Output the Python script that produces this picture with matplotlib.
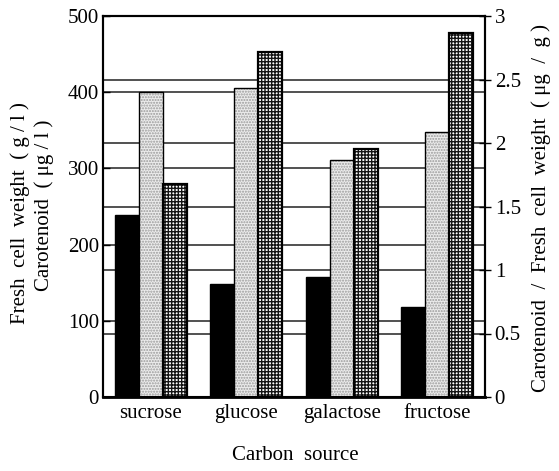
import matplotlib
matplotlib.use("Agg")
import matplotlib.pyplot as plt
import numpy as np

categories = ["sucrose", "glucose", "galactose", "fructose"]
fresh_cell_weight = [239, 148, 158, 118]      # g/l (left axis)
carotenoid = [400, 405, 311, 348]             # ug/l (left axis)
ratio = [1.68, 2.72, 1.95, 2.87]              # ug/g (right axis)
left_ticks = [0, 100, 200, 300, 400, 500]
right_ticks = [0, 0.5, 1, 1.5, 2, 2.5, 3]
right_tick_labels = ["0", "0.5", "1", "1.5", "2", "2.5", "3"]

plt.rcParams['font.family'] = ['Liberation Serif', 'DejaVu Serif']
plt.rcParams['hatch.linewidth'] = 1.0

fig = plt.figure(figsize=(5.59, 4.71), dpi=100)
ax = fig.add_axes([103/559, 1-397/471, 382/559, 381/471])
ax2 = ax.twinx()

x = np.arange(len(categories))
w = 0.25
LMAX, RMAX = 500, 3

ax.set_xlim(-0.5, 3.5)
ax.set_ylim(0, LMAX)
ax2.set_ylim(0, RMAX)

# gridlines (left ticks and right ticks)
for v in left_ticks[1:-1]:
    ax.axhline(v, color='#222222', lw=1.1, zorder=1)
for v in right_ticks[1:-1]:
    ax.axhline(v * LMAX / RMAX, color='#222222', lw=1.1, zorder=1)

ax.bar(x - w, fresh_cell_weight, w, color='black', edgecolor='black', lw=1.0, zorder=3)
ax.bar(x, carotenoid, w, color='#ececec', edgecolor='#9a9a9a', hatch='......', lw=0, zorder=3)
ax.bar(x, carotenoid, w, fill=False, edgecolor='black', lw=1.0, zorder=4)
ax2.bar(x + w, ratio, w, color='white', edgecolor='#151515', hatch='+++++', lw=0, zorder=3)
ax2.bar(x + w, ratio, w, fill=False, edgecolor='black', lw=1.6, zorder=4)

ax.set_yticks(left_ticks)
ax.set_yticklabels([str(t) for t in left_ticks])
ax2.set_yticks(right_ticks)
ax2.set_yticklabels(right_tick_labels)
ax.set_xticks(x)
ax.set_xticklabels(categories, fontsize=15)

ax.tick_params(axis='y', direction='in', length=5, width=1, labelsize=15, pad=3)
ax2.tick_params(axis='y', direction='inout', length=8, width=1, labelsize=15, pad=3)
ax.tick_params(axis='x', length=0, pad=5)

for a in (ax, ax2):
    for s in a.spines.values():
        s.set_linewidth(1.5)
        s.set_color('black')
ax.spines['bottom'].set_linewidth(2)

fig.text(295/559, 1-455/471, "Carbon  source", fontsize=15, ha='center', va='center')
fig.text(20/559, 1-213/471, "Fresh  cell  weight  ( g / l )", rotation=90, fontsize=15,
         ha='center', va='center')
fig.text(44/559, 1-205/471, "Carotenoid  ( \u03bcg / l )", rotation=90, fontsize=15,
         ha='center', va='center')
fig.text(541/559, 1-208/471, "Carotenoid  /  Fresh  cell  weight  ( \u03bcg  /  g )",
         rotation=90, fontsize=15, ha='center', va='center')

fig.savefig("out.png", dpi=100)
